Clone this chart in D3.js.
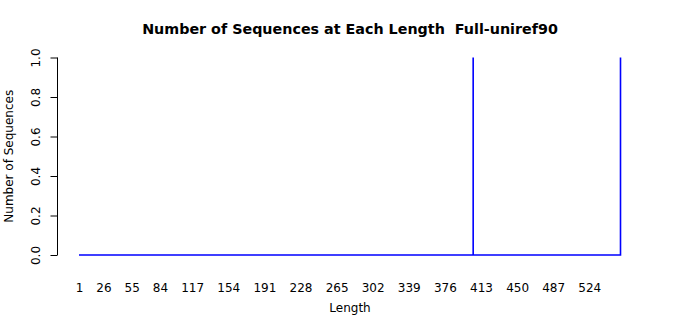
<!DOCTYPE html>
<html>
<head>
<meta charset="utf-8">
<script src="https://cdn.jsdelivr.net/npm/d3@7"></script>
<style>
  html, body { margin: 0; padding: 0; background: #fff; }
  text { font-family: "DejaVu Sans", sans-serif; fill: #000; }
</style>
</head>
<body>
<svg id="chart" width="700" height="315"></svg>
<script>
// Vertices of the count-per-length line: zero baseline with spikes of count 1
const lengths = [1, 405, 405, 405, 556, 556];
const counts  = [0, 0,   1,   0,   0,   1];
const xTickLabels = [1, 26, 55, 84, 117, 154, 191, 228, 265, 302, 339, 376, 413, 450, 487, 524];
const yTicks = [0, 0.2, 0.4, 0.6, 0.8, 1.0];
const titleText = "Number of Sequences at Each Length  Full-uniref90";
const xLabel = "Length";
const yLabel = "Number of Sequences";

const svg = d3.select("#chart");
const x = d3.scaleLinear().domain([1, 556]).range([79, 620.5]);
const y = d3.scaleLinear().domain([0, 1]).range([255, 57.5]);

const pts = lengths.map((l, i) => [l, counts[i]]);
svg.append("path")
  .datum(pts)
  .attr("fill", "none")
  .attr("stroke", "#0000ff")
  .attr("stroke-width", 1.6)
  .attr("d", d3.line().x(d => x(d[0])).y(d => y(d[1])));

// y axis
const yAxis = d3.axisLeft(y).tickValues(yTicks).tickSize(7).tickFormat(d3.format(".1f"));
const gy = svg.append("g").attr("transform", "translate(57.5,0)").call(yAxis);
gy.select(".domain").attr("d", `M0,${y(0)}V${y(1)}`).attr("stroke", "#000");
gy.selectAll(".tick line").attr("stroke", "#000");
gy.selectAll(".tick text")
  .attr("x", null).attr("dy", null)
  .attr("transform", "translate(-17.5,0) rotate(-90)")
  .attr("text-anchor", "middle")
  .attr("font-size", 12)
  .attr("font-family", "DejaVu Sans");

// x axis labels only (no line, no ticks)
const xAxis = d3.axisBottom(x).tickValues(xTickLabels).tickSize(0).tickFormat(d3.format("d"));
const gx = svg.append("g").attr("transform", "translate(0,270)").call(xAxis);
gx.select(".domain").remove();
gx.selectAll(".tick text")
  .attr("y", 22).attr("dy", null)
  .attr("font-size", 12)
  .attr("font-family", "DejaVu Sans");

svg.append("text")
  .attr("x", 350).attr("y", 34)
  .attr("text-anchor", "middle")
  .attr("font-weight", "bold")
  .attr("font-size", 14.3)
  .style("white-space", "pre")
  .attr("xml:space", "preserve")
  .text(titleText);

svg.append("text")
  .attr("x", 350).attr("y", 312)
  .attr("text-anchor", "middle")
  .attr("font-size", 12)
  .text(xLabel);

svg.append("text")
  .attr("transform", `translate(13,${(y(0) + y(1)) / 2}) rotate(-90)`)
  .attr("text-anchor", "middle")
  .attr("font-size", 12)
  .text(yLabel);
</script>
</body>
</html>
